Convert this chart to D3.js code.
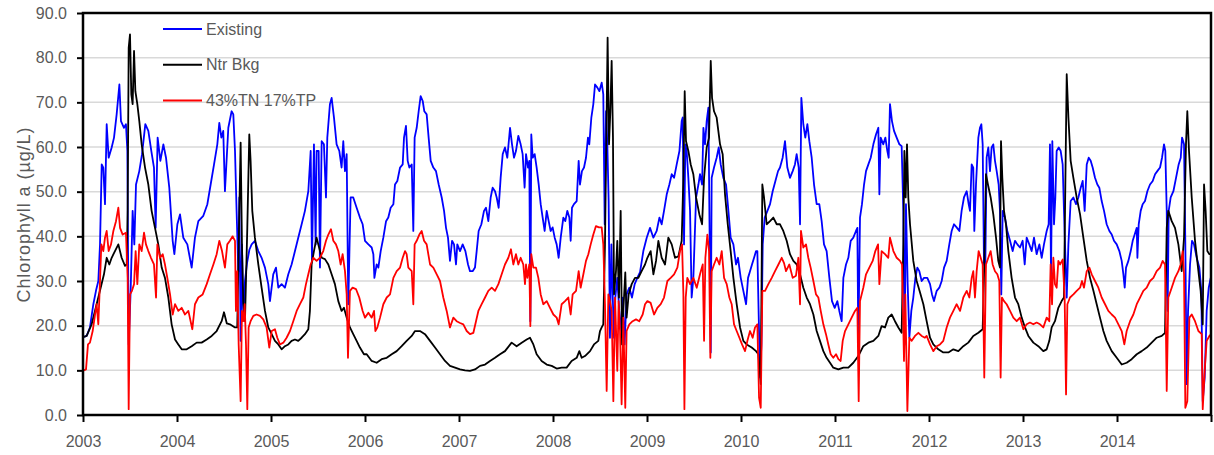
<!DOCTYPE html>
<html>
<head>
<meta charset="utf-8">
<title>Chlorophyll a</title>
<script src="https://cdn.jsdelivr.net/npm/d3@7/dist/d3.min.js"></script>
<style>
  html, body { margin: 0; padding: 0; background: #fff; }
  svg { display: block; font-family: "Liberation Sans", Arial, sans-serif; }
</style>
</head>
<body>
<svg width="1214" height="455"></svg>
<script>
// values, [decimal year, chlorophyll a in ug/L]
var existing = [
[2003.01,17.5],[2003.039,17.7],[2003.074,19.6],[2003.110,24.8],[2003.138,27.8],[2003.163,30],[2003.181,38.2],[2003.199,56.1],[2003.216,55.4],[2003.234,47.2],[2003.252,65.1],[2003.273,57.6],[2003.305,59.9],[2003.330,62.1],[2003.358,67.3],[2003.387,74],[2003.404,65.8],[2003.436,64.3],[2003.457,65.1],[2003.472,59.1],[2003.486,15.8],[2003.507,27.8],[2003.528,45.7],[2003.546,38.2],[2003.564,51.6],[2003.599,54.6],[2003.628,58.4],[2003.663,65.1],[2003.695,63.6],[2003.727,59.1],[2003.755,55.4],[2003.773,41.9],[2003.794,62.1],[2003.823,56.9],[2003.855,60.6],[2003.883,57.6],[2003.918,50.9],[2003.954,39],[2003.972,36],[2004.004,42.7],[2004.032,44.9],[2004.067,39.7],[2004.110,38.2],[2004.156,33],[2004.191,39.7],[2004.227,43.4],[2004.280,44.6],[2004.323,47.2],[2004.358,51.6],[2004.394,56.1],[2004.429,60.6],[2004.450,65.4],[2004.472,62.1],[2004.492,63.6],[2004.510,50.1],[2004.546,64.3],[2004.581,68],[2004.599,67.3],[2004.617,59.1],[2004.634,45.7],[2004.652,32.2],[2004.663,48.7],[2004.677,16.6],[2004.691,38.2],[2004.705,22],[2004.723,30],[2004.745,34],[2004.770,37],[2004.794,38.2],[2004.829,39],[2004.865,36.7],[2004.900,35.2],[2004.936,33],[2004.971,29.3],[2004.989,25.5],[2005.024,31.5],[2005.053,33],[2005.078,28.5],[2005.113,29.3],[2005.148,28.5],[2005.184,31.5],[2005.219,33.7],[2005.255,36.7],[2005.290,39.7],[2005.326,42.7],[2005.361,45.7],[2005.397,50.1],[2005.422,59.1],[2005.436,34.5],[2005.457,60.6],[2005.475,38.2],[2005.485,59.1],[2005.507,59.1],[2005.521,33],[2005.539,61.3],[2005.563,60.6],[2005.585,48.7],[2005.599,62.1],[2005.627,69.6],[2005.645,71],[2005.670,66.6],[2005.698,60.6],[2005.727,59.1],[2005.751,55.4],[2005.769,61.3],[2005.787,54.6],[2005.805,58.4],[2005.822,24.8],[2005.847,48.7],[2005.875,48.7],[2005.911,46.4],[2005.946,44.2],[2005.975,42.7],[2006.0,39],[2006.036,38.2],[2006.071,37.5],[2006.089,36],[2006.100,30.7],[2006.124,33.7],[2006.142,33],[2006.167,36.7],[2006.195,39.7],[2006.224,43.4],[2006.248,44.2],[2006.273,46.4],[2006.302,47.2],[2006.319,51.6],[2006.344,52.4],[2006.373,55.4],[2006.401,56.1],[2006.415,62.1],[2006.436,64.7],[2006.454,56.9],[2006.472,55.4],[2006.497,56.1],[2006.514,41.2],[2006.528,62.1],[2006.550,64.3],[2006.571,68],[2006.592,71.4],[2006.614,70.3],[2006.631,68],[2006.656,67.3],[2006.677,62.1],[2006.699,56.9],[2006.727,55.4],[2006.755,54.6],[2006.784,51.6],[2006.816,48.7],[2006.841,45.7],[2006.862,41.9],[2006.883,39.7],[2006.904,34.5],[2006.926,39],[2006.947,38.2],[2006.968,33.7],[2006.982,38.2],[2007.011,36.7],[2007.039,38.2],[2007.068,36.7],[2007.096,33.7],[2007.117,32.2],[2007.145,32.2],[2007.170,33],[2007.188,36.7],[2007.209,41.2],[2007.238,42.7],[2007.266,45.7],[2007.287,46.4],[2007.312,43.4],[2007.337,48.7],[2007.358,50.9],[2007.383,50.1],[2007.401,48.7],[2007.422,46.4],[2007.443,53.1],[2007.465,58.4],[2007.489,59.9],[2007.514,57.6],[2007.543,64.3],[2007.564,60.6],[2007.585,57.6],[2007.606,59.1],[2007.631,62.5],[2007.656,60.6],[2007.677,58.4],[2007.698,50.9],[2007.713,58.4],[2007.734,55.4],[2007.748,56.9],[2007.759,21],[2007.769,62.8],[2007.784,57.6],[2007.805,58.4],[2007.826,55.4],[2007.848,51.6],[2007.869,47.2],[2007.890,44.2],[2007.911,41.2],[2007.933,45.7],[2007.954,43.4],[2007.975,41.2],[2007.996,42],[2008.018,39.7],[2008.039,38.2],[2008.060,35.2],[2008.082,39.7],[2008.110,44.2],[2008.131,43.4],[2008.152,45.7],[2008.174,44.2],[2008.188,39],[2008.202,46.4],[2008.223,47.2],[2008.252,47.9],[2008.273,56.9],[2008.287,51.6],[2008.308,54.6],[2008.330,55.4],[2008.351,57.6],[2008.372,62.1],[2008.386,60.6],[2008.408,66.6],[2008.429,69.6],[2008.447,74],[2008.472,73.3],[2008.493,72.5],[2008.518,74.4],[2008.535,71.8],[2008.550,42.7],[2008.564,68],[2008.578,60.6],[2008.592,47.9],[2008.606,17.3],[2008.621,38.2],[2008.635,27],[2008.649,17.3],[2008.663,26.3],[2008.684,30.7],[2008.705,23.3],[2008.727,18.8],[2008.741,26.3],[2008.762,15.8],[2008.783,27],[2008.812,28.5],[2008.840,26.3],[2008.869,29.3],[2008.897,30.7],[2008.926,32],[2008.961,36.7],[2008.997,39.7],[2009.032,41.9],[2009.068,39.7],[2009.103,41.2],[2009.132,44.2],[2009.156,42.7],[2009.181,45.7],[2009.210,49.4],[2009.238,51.6],[2009.263,53.9],[2009.288,53.1],[2009.316,56.1],[2009.345,59.1],[2009.369,65.8],[2009.380,66.6],[2009.394,38.2],[2009.408,60.6],[2009.422,59.1],[2009.440,53.1],[2009.458,45.7],[2009.475,26.3],[2009.493,30.7],[2009.522,48.7],[2009.547,51.6],[2009.564,53.9],[2009.586,51.6],[2009.600,64.3],[2009.617,60.6],[2009.635,65.8],[2009.653,68.8],[2009.667,38.2],[2009.678,14],[2009.688,53.1],[2009.713,55.4],[2009.741,57.6],[2009.763,59.9],[2009.784,56.1],[2009.812,53.1],[2009.841,51.6],[2009.866,45.7],[2009.890,39.7],[2009.919,38.2],[2009.947,33.7],[2009.968,35.2],[2009.997,30.7],[2010.025,27.8],[2010.054,24.8],[2010.075,30.7],[2010.096,32.2],[2010.117,33.7],[2010.139,35.2],[2010.160,36.7],[2010.174,36.7],[2010.188,22.5],[2010.203,8.4],[2010.217,15.8],[2010.231,38.2],[2010.252,44.2],[2010.281,45.7],[2010.309,47.2],[2010.337,50.1],[2010.366,52.4],[2010.394,54.6],[2010.415,55.4],[2010.443,57.6],[2010.468,61.3],[2010.493,55.4],[2010.521,53.1],[2010.550,54.6],[2010.574,56.1],[2010.592,58.4],[2010.614,55.4],[2010.628,42.7],[2010.642,71],[2010.663,65.1],[2010.684,62.1],[2010.706,65.1],[2010.727,61.3],[2010.752,57.6],[2010.777,51.6],[2010.805,47.2],[2010.833,47.2],[2010.858,43.4],[2010.883,38.2],[2010.911,36.7],[2010.940,30.7],[2010.968,25.5],[2010.997,24],[2011.025,25.5],[2011.046,23.3],[2011.071,21],[2011.089,30.7],[2011.117,33.7],[2011.142,35.2],[2011.167,39],[2011.195,39.7],[2011.223,41.2],[2011.238,41.9],[2011.248,15.8],[2011.266,44.2],[2011.287,47.2],[2011.309,51.6],[2011.330,54.6],[2011.355,56.1],[2011.380,57.6],[2011.408,60.6],[2011.436,62.8],[2011.461,64.3],[2011.472,49.4],[2011.486,62.1],[2011.514,60.6],[2011.536,62.1],[2011.557,59.1],[2011.571,57.6],[2011.585,69.6],[2011.606,65.8],[2011.628,63.6],[2011.656,62.1],[2011.685,60.6],[2011.709,60.2],[2011.727,45.7],[2011.741,15.8],[2011.755,47.2],[2011.773,29.3],[2011.791,17.3],[2011.812,23.3],[2011.833,26.3],[2011.855,30.7],[2011.876,33],[2011.897,32.2],[2011.922,30],[2011.947,30.7],[2011.982,30.7],[2012.011,29.3],[2012.032,27],[2012.053,25.5],[2012.082,27.8],[2012.110,28.5],[2012.135,30],[2012.160,33],[2012.188,34.5],[2012.216,38.2],[2012.241,41.2],[2012.266,42.7],[2012.294,42],[2012.323,41.2],[2012.347,45.7],[2012.372,48.7],[2012.401,50.1],[2012.422,47.2],[2012.436,45.7],[2012.454,56.1],[2012.471,55.4],[2012.482,41.2],[2012.500,51.6],[2012.525,62.1],[2012.542,64.3],[2012.557,65.1],[2012.571,60.6],[2012.585,33.7],[2012.599,33],[2012.613,57.6],[2012.631,59.9],[2012.649,54.6],[2012.666,59.9],[2012.684,60.6],[2012.702,56.9],[2012.720,54.6],[2012.741,51.6],[2012.755,45.7],[2012.769,27],[2012.784,45.7],[2012.808,44.2],[2012.833,41.2],[2012.862,39],[2012.890,36.7],[2012.915,39],[2012.940,38.2],[2012.968,37.5],[2012.996,39],[2013.018,33.7],[2013.039,39.7],[2013.067,38.2],[2013.092,36.7],[2013.117,39.7],[2013.145,36],[2013.174,38.2],[2013.199,35.2],[2013.223,38.2],[2013.252,41.2],[2013.273,42.7],[2013.287,60.6],[2013.298,30.7],[2013.312,61.3],[2013.330,42.7],[2013.344,48.7],[2013.358,59.1],[2013.380,59.9],[2013.401,59.1],[2013.422,56.1],[2013.436,45.7],[2013.447,38.2],[2013.465,26.3],[2013.483,38.2],[2013.507,47.9],[2013.536,48.7],[2013.564,47.2],[2013.589,48.7],[2013.614,50.9],[2013.635,52.4],[2013.656,45.7],[2013.678,56.1],[2013.699,57.6],[2013.720,56.9],[2013.741,55.4],[2013.766,53.1],[2013.791,51.6],[2013.812,50.9],[2013.837,47.9],[2013.862,45.7],[2013.890,42.7],[2013.919,41.2],[2013.944,40.4],[2013.968,39],[2013.997,38.2],[2014.025,36.7],[2014.050,34.5],[2014.068,31.5],[2014.082,28.5],[2014.096,33],[2014.121,34.5],[2014.146,36.7],[2014.167,39],[2014.188,40.4],[2014.210,41.9],[2014.217,35.2],[2014.231,42.7],[2014.252,45.7],[2014.273,47.2],[2014.298,47.9],[2014.323,50.1],[2014.351,51.6],[2014.380,52.4],[2014.405,53.9],[2014.429,54.6],[2014.458,55.4],[2014.479,57.6],[2014.500,60.6],[2014.514,59.1],[2014.529,45.7],[2014.539,23.3],[2014.550,45.7],[2014.571,48.7],[2014.600,50.1],[2014.628,53.1],[2014.656,56.1],[2014.678,57.6],[2014.692,62.1],[2014.713,60.6],[2014.727,38.2],[2014.741,6.9],[2014.756,23.3],[2014.777,33.7],[2014.798,39],[2014.819,38.2],[2014.848,35.2],[2014.876,33],[2014.897,27.8],[2014.912,3.1],[2014.933,8.4],[2014.954,23.3],[2014.976,28.5],[2014.997,30.7]
];

var ntrBkg = [
[2003.01,17.5],[2003.039,17.7],[2003.092,20.3],[2003.145,24.8],[2003.188,28.5],[2003.223,31.5],[2003.252,35.2],[2003.280,33.7],[2003.305,35.2],[2003.340,36.7],[2003.376,38.2],[2003.411,35.2],[2003.447,33.4],[2003.465,33.7],[2003.475,45.7],[2003.486,82.2],[2003.500,85.2],[2003.514,71.8],[2003.528,69.6],[2003.543,81.5],[2003.557,72.5],[2003.578,69.6],[2003.599,65.8],[2003.624,60.6],[2003.660,55.4],[2003.695,51.6],[2003.730,45.7],[2003.766,41.9],[2003.801,38.2],[2003.837,33],[2003.872,30.7],[2003.908,26.3],[2003.943,20.3],[2003.979,16.9],[2004.014,15.8],[2004.050,14.7],[2004.103,14.7],[2004.156,15.4],[2004.209,16.2],[2004.262,16.2],[2004.316,16.9],[2004.369,17.7],[2004.422,18.8],[2004.475,21],[2004.500,23],[2004.530,20.5],[2004.563,20.3],[2004.617,19.6],[2004.641,19.6],[2004.663,45.7],[2004.677,61],[2004.691,38.2],[2004.705,25],[2004.723,21],[2004.748,42],[2004.769,62.8],[2004.783,56.9],[2004.801,45.7],[2004.829,39.7],[2004.865,33.7],[2004.900,28.5],[2004.936,23.3],[2004.971,19.6],[2005.007,18.1],[2005.042,16.6],[2005.078,15.8],[2005.113,14.7],[2005.148,15.4],[2005.184,15.8],[2005.219,16.6],[2005.255,16.9],[2005.290,16.6],[2005.326,17.3],[2005.361,18.1],[2005.397,19.2],[2005.414,23.3],[2005.432,33.7],[2005.457,36.7],[2005.485,39.7],[2005.503,38.2],[2005.539,35.2],[2005.574,34.9],[2005.610,33.7],[2005.645,31.5],[2005.680,29.3],[2005.716,25.5],[2005.751,23.3],[2005.776,24],[2005.805,21.8],[2005.840,19.6],[2005.875,18.1],[2005.911,16.6],[2005.946,15.1],[2005.989,13.6],[2006.018,13.6],[2006.071,12.1],[2006.124,11.7],[2006.177,12.5],[2006.231,12.8],[2006.284,13.6],[2006.337,14.3],[2006.390,15.4],[2006.443,16.6],[2006.497,17.7],[2006.532,18.8],[2006.585,18.8],[2006.638,18.1],[2006.692,16.6],[2006.745,15.1],[2006.798,13.6],[2006.851,12.1],[2006.904,11],[2006.958,10.6],[2007.011,10.2],[2007.064,10],[2007.117,9.9],[2007.170,10.2],[2007.224,11],[2007.277,11.3],[2007.330,12.1],[2007.383,12.8],[2007.436,13.6],[2007.489,14.3],[2007.560,16.2],[2007.613,15.4],[2007.667,16.2],[2007.720,16.9],[2007.755,17.3],[2007.791,15.8],[2007.826,13.6],[2007.879,12.1],[2007.933,11.3],[2007.986,11],[2008.039,10.4],[2008.092,10.6],[2008.145,10.6],[2008.198,12.1],[2008.252,12.8],[2008.280,14.3],[2008.305,12.8],[2008.340,13.2],[2008.394,14.3],[2008.436,15.8],[2008.482,16.6],[2008.500,18.8],[2008.518,19.6],[2008.535,20.3],[2008.553,38.2],[2008.571,68],[2008.581,84.5],[2008.596,60.6],[2008.610,68],[2008.624,79.3],[2008.638,62.1],[2008.649,27],[2008.670,32.2],[2008.684,39],[2008.702,26.3],[2008.720,45.7],[2008.734,15.8],[2008.748,23.3],[2008.769,31.9],[2008.783,21.8],[2008.805,27],[2008.837,29.3],[2008.872,30.7],[2008.908,30.7],[2008.943,32.2],[2008.979,33.7],[2009.004,35.2],[2009.039,36.7],[2009.068,31.5],[2009.096,34.5],[2009.121,39],[2009.156,35.2],[2009.192,33.7],[2009.227,39.7],[2009.263,38.2],[2009.298,35.2],[2009.334,35.5],[2009.369,39],[2009.387,53.1],[2009.401,72.5],[2009.415,61.3],[2009.440,59.1],[2009.465,56.1],[2009.493,53.9],[2009.522,48.7],[2009.557,44.9],[2009.586,42.7],[2009.607,53.1],[2009.635,59.9],[2009.660,62.1],[2009.678,79.3],[2009.692,71],[2009.713,68],[2009.741,66.6],[2009.777,60.6],[2009.805,58.4],[2009.830,49.4],[2009.859,42.7],[2009.890,36.7],[2009.919,30.7],[2009.954,24.8],[2009.990,19.6],[2010.025,16.6],[2010.060,15.8],[2010.114,15.1],[2010.160,14.3],[2010.185,13.6],[2010.210,6.9],[2010.227,51.6],[2010.245,48.7],[2010.273,42.7],[2010.309,43.4],[2010.344,44.2],[2010.380,42.7],[2010.415,42.7],[2010.450,41.2],[2010.486,39],[2010.521,36],[2010.557,34.5],[2010.592,33.7],[2010.628,31.5],[2010.663,28.5],[2010.699,26.3],[2010.734,24.8],[2010.770,22.5],[2010.805,18.8],[2010.840,16.6],[2010.876,14.3],[2010.911,12.8],[2010.947,11.7],[2010.982,10.6],[2011.036,10.2],[2011.089,10.6],[2011.142,10.6],[2011.195,11.7],[2011.248,13.2],[2011.301,15.4],[2011.355,16.2],[2011.408,16.6],[2011.461,17.7],[2011.496,19.9],[2011.532,19.6],[2011.567,21.8],[2011.603,22.5],[2011.638,21],[2011.674,19.6],[2011.709,18.4],[2011.727,38.2],[2011.738,59.1],[2011.752,48.7],[2011.766,60.6],[2011.780,48.7],[2011.798,42.7],[2011.833,34.5],[2011.869,30],[2011.904,27.5],[2011.940,24.8],[2011.975,21],[2012.011,17.3],[2012.046,15.8],[2012.099,14.7],[2012.152,14],[2012.206,14],[2012.259,14.7],[2012.312,14.3],[2012.365,15.4],[2012.418,16.2],[2012.471,17.7],[2012.525,18.4],[2012.571,19.2],[2012.588,33.7],[2012.606,53.9],[2012.627,51.6],[2012.656,48.7],[2012.684,44.9],[2012.713,39.7],[2012.737,34.5],[2012.755,33],[2012.766,61.3],[2012.780,53.1],[2012.798,45.7],[2012.819,42.7],[2012.844,36.7],[2012.879,30.7],[2012.915,26.3],[2012.950,24.8],[2012.986,21.8],[2013.021,19.6],[2013.057,17.7],[2013.110,16.2],[2013.163,15.4],[2013.216,14.3],[2013.252,14.7],[2013.280,16.6],[2013.305,19.6],[2013.340,21],[2013.376,24],[2013.411,25.5],[2013.436,26.3],[2013.447,45.7],[2013.465,76.3],[2013.483,66.6],[2013.507,56.9],[2013.536,53.1],[2013.571,48.7],[2013.607,44.9],[2013.642,39.7],[2013.678,34.5],[2013.713,30.7],[2013.749,27.8],[2013.784,24.8],[2013.819,21.8],[2013.855,18.8],[2013.890,16.6],[2013.944,14.3],[2013.997,12.8],[2014.050,11.3],[2014.103,11.7],[2014.156,12.5],[2014.210,13.6],[2014.263,14.3],[2014.316,15.1],[2014.369,16.2],[2014.422,17.3],[2014.476,17.7],[2014.511,18.4],[2014.529,41.9],[2014.546,45.7],[2014.582,43.4],[2014.617,41.9],[2014.653,38.2],[2014.688,32.2],[2014.713,39.7],[2014.734,60.6],[2014.748,68],[2014.766,59.1],[2014.795,48.7],[2014.830,39],[2014.866,32.2],[2014.890,27.8],[2014.912,20.3],[2014.926,51.6],[2014.943,45.7],[2014.961,36.7],[2014.983,36],[2014.997,36]
];

var reduced = [
[2003.01,10],[2003.032,10.2],[2003.053,15.8],[2003.074,16.2],[2003.103,18.8],[2003.128,22.5],[2003.145,24.8],[2003.163,20.3],[2003.181,30],[2003.195,38.2],[2003.216,36.7],[2003.234,39.7],[2003.252,41.2],[2003.273,36.7],[2003.298,38.2],[2003.323,41.2],[2003.351,43.4],[2003.376,46.4],[2003.394,41.9],[2003.422,40.4],[2003.457,40.8],[2003.475,30.7],[2003.486,1.3],[2003.500,27],[2003.521,27.8],[2003.543,29.3],[2003.560,36.7],[2003.578,29.3],[2003.599,38.2],[2003.624,36.7],[2003.649,40.8],[2003.670,38.2],[2003.695,36.7],[2003.723,35.2],[2003.755,33.7],[2003.777,26.3],[2003.791,38.2],[2003.819,35.2],[2003.848,36],[2003.872,33.7],[2003.897,30.7],[2003.926,27],[2003.954,22.5],[2003.979,24.8],[2004.014,23.3],[2004.050,24],[2004.085,22.5],[2004.121,23.3],[2004.163,19.2],[2004.191,24.8],[2004.227,26.3],[2004.273,27],[2004.316,29.3],[2004.351,31.5],[2004.387,33.7],[2004.422,36],[2004.450,39],[2004.479,36.7],[2004.510,33],[2004.535,38.2],[2004.563,39],[2004.592,40],[2004.617,39],[2004.627,23.3],[2004.641,32.2],[2004.656,15.8],[2004.677,3.1],[2004.691,23.3],[2004.705,21],[2004.720,24.8],[2004.734,15.8],[2004.748,1.3],[2004.762,19.6],[2004.783,21],[2004.812,22.2],[2004.847,22.5],[2004.883,22.2],[2004.918,21.4],[2004.953,19.6],[2004.982,15.1],[2005.007,18.8],[2005.042,19.2],[2005.067,17.3],[2005.095,15.8],[2005.131,16.2],[2005.166,17.3],[2005.202,18.8],[2005.237,21],[2005.273,23.3],[2005.308,24.8],[2005.344,26.3],[2005.372,29.3],[2005.397,31.5],[2005.422,33.7],[2005.450,35.2],[2005.485,34.5],[2005.521,35.2],[2005.556,36.7],[2005.585,39],[2005.610,40.4],[2005.638,41.6],[2005.663,39],[2005.691,38.2],[2005.716,36.7],[2005.741,33.7],[2005.762,36],[2005.787,32.2],[2005.805,27],[2005.819,12.8],[2005.840,27.8],[2005.868,28.5],[2005.904,28.2],[2005.939,26.3],[2005.975,23.3],[2006.0,21.8],[2006.036,22.9],[2006.071,21.8],[2006.096,23.3],[2006.110,18.8],[2006.131,19.6],[2006.160,21.8],[2006.195,24.8],[2006.231,26.3],[2006.266,27],[2006.302,30.7],[2006.337,32.2],[2006.373,33],[2006.401,35.2],[2006.426,36.7],[2006.443,36],[2006.461,33],[2006.497,32.2],[2006.514,24.8],[2006.528,38.2],[2006.550,39],[2006.578,40.4],[2006.603,41.2],[2006.628,39],[2006.656,38.2],[2006.692,33.7],[2006.727,33],[2006.763,31.5],[2006.798,30],[2006.833,26.3],[2006.869,23.3],[2006.904,19.6],[2006.940,21.8],[2006.975,21],[2007.011,20.6],[2007.046,20.3],[2007.082,18.8],[2007.117,18.1],[2007.153,18.4],[2007.181,21],[2007.206,23.3],[2007.241,24.8],[2007.277,26.3],[2007.312,27.8],[2007.348,28.5],[2007.383,27.8],[2007.419,29.3],[2007.454,31.5],[2007.489,33.7],[2007.525,35.2],[2007.553,37.1],[2007.578,33.7],[2007.606,36],[2007.631,33.7],[2007.656,35.2],[2007.684,33.7],[2007.702,29.3],[2007.713,33.7],[2007.727,30.7],[2007.748,33.7],[2007.759,19.9],[2007.769,36],[2007.791,33],[2007.819,33],[2007.844,30.7],[2007.869,27],[2007.897,24.8],[2007.933,25.5],[2007.968,24],[2008.004,22.5],[2008.039,21.8],[2008.060,20.3],[2008.092,24.8],[2008.128,25.5],[2008.163,26.3],[2008.188,22.5],[2008.209,27],[2008.245,27.8],[2008.273,32.2],[2008.294,28.5],[2008.323,31.5],[2008.351,34.5],[2008.376,36],[2008.401,38.2],[2008.429,40.4],[2008.457,42.3],[2008.489,42],[2008.518,42],[2008.535,38.2],[2008.553,24.8],[2008.571,5.4],[2008.589,27],[2008.606,25.5],[2008.624,23.3],[2008.642,3.1],[2008.660,26.3],[2008.684,9.9],[2008.698,25.5],[2008.713,18.8],[2008.730,2.4],[2008.748,21.8],[2008.769,1.6],[2008.783,18.8],[2008.812,20.3],[2008.847,21],[2008.883,21.4],[2008.918,21],[2008.954,22.5],[2008.979,24.8],[2009.004,25.5],[2009.039,25.1],[2009.075,22.5],[2009.110,24],[2009.146,24.8],[2009.181,26.3],[2009.217,30],[2009.252,30.7],[2009.288,31.5],[2009.323,33],[2009.351,36.7],[2009.373,38.2],[2009.387,27],[2009.398,1.3],[2009.412,26.3],[2009.429,30.7],[2009.458,29.3],[2009.493,30.7],[2009.529,28.5],[2009.564,31.5],[2009.593,33.7],[2009.607,16.6],[2009.621,35.2],[2009.642,40.4],[2009.660,36.7],[2009.674,12.8],[2009.688,32.2],[2009.713,33.7],[2009.741,35.2],[2009.770,33.7],[2009.795,36.7],[2009.820,30.7],[2009.848,29.3],[2009.876,26.3],[2009.901,24.8],[2009.926,20.3],[2009.954,18.8],[2009.983,17.3],[2010.011,15.8],[2010.043,14.3],[2010.068,16.6],[2010.096,18.8],[2010.124,17.3],[2010.149,19.6],[2010.174,20.3],[2010.192,3.9],[2010.210,1.6],[2010.227,27.8],[2010.256,27.8],[2010.291,29.3],[2010.327,30.7],[2010.362,32.2],[2010.398,33.7],[2010.433,35.2],[2010.458,34],[2010.479,32.2],[2010.514,33.7],[2010.550,30.7],[2010.585,31.2],[2010.610,35.2],[2010.628,24.8],[2010.638,41.2],[2010.663,37.5],[2010.692,38.2],[2010.716,35.2],[2010.741,33],[2010.770,30],[2010.798,27],[2010.823,26.3],[2010.848,23.3],[2010.876,20.3],[2010.904,18.1],[2010.929,15.8],[2010.954,13.6],[2010.982,12.8],[2011.011,13.6],[2011.036,12.5],[2011.060,12.1],[2011.082,16.6],[2011.107,18.8],[2011.142,20.3],[2011.177,21.8],[2011.213,23.3],[2011.238,24],[2011.252,3.1],[2011.266,25.5],[2011.301,28.5],[2011.330,31.5],[2011.365,33],[2011.401,34.5],[2011.429,36.7],[2011.458,38.2],[2011.472,29.3],[2011.496,36.7],[2011.532,36],[2011.567,35.2],[2011.585,39.7],[2011.621,36.7],[2011.656,35.2],[2011.692,34.5],[2011.713,33.7],[2011.734,12.1],[2011.748,27],[2011.770,0.9],[2011.791,17.3],[2011.816,16.6],[2011.851,17.7],[2011.887,18.4],[2011.922,17.7],[2011.957,17.3],[2011.975,17.7],[2012.011,15.8],[2012.046,14.3],[2012.082,15.4],[2012.117,15.8],[2012.152,16.6],[2012.188,19.6],[2012.223,21.8],[2012.259,23.3],[2012.294,24.8],[2012.330,23.3],[2012.365,26.3],[2012.401,27.8],[2012.429,26.3],[2012.454,30.7],[2012.471,32.2],[2012.489,26.3],[2012.507,32.2],[2012.528,36.7],[2012.550,35.2],[2012.571,33.7],[2012.588,8.4],[2012.606,33.7],[2012.631,35.2],[2012.656,36.7],[2012.677,33.7],[2012.702,32.2],[2012.727,31.5],[2012.748,30],[2012.762,8.4],[2012.776,26.3],[2012.798,25.5],[2012.826,24.8],[2012.862,23.3],[2012.897,21.8],[2012.933,21],[2012.968,21.8],[2013.004,19.2],[2013.039,20.3],[2013.074,20.7],[2013.110,20.3],[2013.145,20.7],[2013.181,20.3],[2013.216,19.6],[2013.252,21.8],[2013.280,21],[2013.294,33.7],[2013.309,24.8],[2013.323,35.2],[2013.340,29.3],[2013.358,28.5],[2013.376,34.5],[2013.394,33.7],[2013.422,34.8],[2013.443,26.3],[2013.458,4.6],[2013.472,24.8],[2013.500,26.3],[2013.536,27],[2013.571,27.8],[2013.607,28.5],[2013.628,30],[2013.649,28.5],[2013.678,32.2],[2013.706,33],[2013.731,31.5],[2013.766,30],[2013.802,28.5],[2013.837,26.3],[2013.873,24.8],[2013.908,23.3],[2013.944,22.5],[2013.979,21.8],[2014.015,20.3],[2014.050,18.8],[2014.078,15.8],[2014.103,18.8],[2014.139,21],[2014.174,22.5],[2014.210,24.8],[2014.245,26.3],[2014.280,27.8],[2014.316,28.5],[2014.351,30],[2014.387,30.7],[2014.422,32.2],[2014.458,33],[2014.486,34.5],[2014.511,33.7],[2014.529,5.4],[2014.546,26.3],[2014.582,28.5],[2014.617,30.7],[2014.653,32.2],[2014.677,33.7],[2014.699,36.7],[2014.713,31.5],[2014.727,1.6],[2014.748,3.1],[2014.770,21.8],[2014.795,22.5],[2014.830,21],[2014.866,18.8],[2014.901,18.1],[2014.912,1.3],[2014.933,9.9],[2014.954,16.6],[2014.983,17.7],[2014.997,18]
];

var seriesNames = ["Existing", "Ntr Bkg", "43%TN 17%TP"];
var seriesColors = ["#0000ff", "#000000", "#ff0000"];
var yearTicks = [2003, 2004, 2005, 2006, 2007, 2008, 2009, 2010, 2011, 2012, 2013, 2014, 2015];
var yTicks = [0, 10, 20, 30, 40, 50, 60, 70, 80, 90];
var yTitle = "Chlorophyll a (\u00b5g/L)";

(function(d3) {
    "use strict";

var svg = d3.select("svg"),
    margin = {top: 13, right: 3, bottom: 40, left: 83},
    width = +svg.attr("width") - margin.left - margin.right,
    height = +svg.attr("height") - margin.top - margin.bottom,
    textColor = "#595959",

    x = d3.scaleLinear().domain([2003, 2015]).range([0, width]),
    y = d3.scaleLinear().domain([0, 90]).range([height, 0]),

    line = d3.line()
        .x(function(d) { return x(d[0]); })
        .y(function(d) { return y(d[1]); }),

    g = svg.append("g")
        .attr("transform", "translate(" + margin.left + "," + margin.top + ")");

// horizontal grid
g.append("g")
    .selectAll("line")
    .data(yTicks.filter(function(v) { return v > 0 && v < 90; }))
    .enter().append("line")
    .attr("x1", 0)
    .attr("x2", width)
    .attr("y1", function(d) { return y(d); })
    .attr("y2", function(d) { return y(d); })
    .attr("stroke", "#d9d9d9")
    .attr("stroke-width", 1.5);

// lines: blue below, black, red on top
[existing, ntrBkg, reduced].forEach(function(data, i) {
    g.append("path")
        .datum(data)
        .attr("fill", "none")
        .attr("stroke", seriesColors[i])
        .attr("stroke-width", 1.8)
        .attr("stroke-linejoin", "round")
        .attr("d", line);
});

// frame
g.append("rect")
    .attr("width", width)
    .attr("height", height)
    .attr("fill", "none")
    .attr("stroke", "#000")
    .attr("stroke-width", 2.5);

var xAxis = g.append("g")
    .attr("transform", "translate(0," + height + ")")
    .call(d3.axisBottom(x)
        .tickValues(yearTicks)
        .tickSize(7)
        .tickSizeOuter(0)
        .tickPadding(14)
        .tickFormat(function(d) { return d === 2015 ? "" : d3.format("d")(d); }));

var yAxis = g.append("g")
    .call(d3.axisLeft(y)
        .tickValues(yTicks)
        .tickSize(6)
        .tickSizeOuter(0)
        .tickPadding(10)
        .tickFormat(d3.format(".1f")));

[xAxis, yAxis].forEach(function(a) {
    a.select(".domain").remove();
    a.selectAll(".tick line").attr("stroke", "#000").attr("stroke-width", 2);
    a.selectAll(".tick text")
        .attr("fill", textColor)
        .style("font-size", "16px")
        .style("font-family", "'Liberation Sans', Arial, sans-serif");
});

svg.append("text")
    .attr("transform", "translate(24," + (margin.top + height / 2 + 1) + ") rotate(-90)")
    .attr("text-anchor", "middle")
    .attr("dy", "0.35em")
    .attr("fill", textColor)
    .style("font-size", "18px")
    .attr("textLength", 175)
    .attr("lengthAdjust", "spacing")
    .text(yTitle);

// legend, inside top left
var legend = svg.append("g")
    .selectAll("g")
    .data(seriesNames)
    .enter().append("g")
    .attr("transform", function(d, i) { return "translate(163," + (29 + i * 35.7) + ")"; });

legend.append("line")
    .attr("x1", 0)
    .attr("x2", 39)
    .attr("stroke", function(d, i) { return seriesColors[i]; })
    .attr("stroke-width", 2);

legend.append("text")
    .attr("x", 43)
    .attr("dy", "0.35em")
    .attr("fill", textColor)
    .style("font-size", "16px")
    .text(function(d) { return d; });

}(d3));
</script>
</body>
</html>
